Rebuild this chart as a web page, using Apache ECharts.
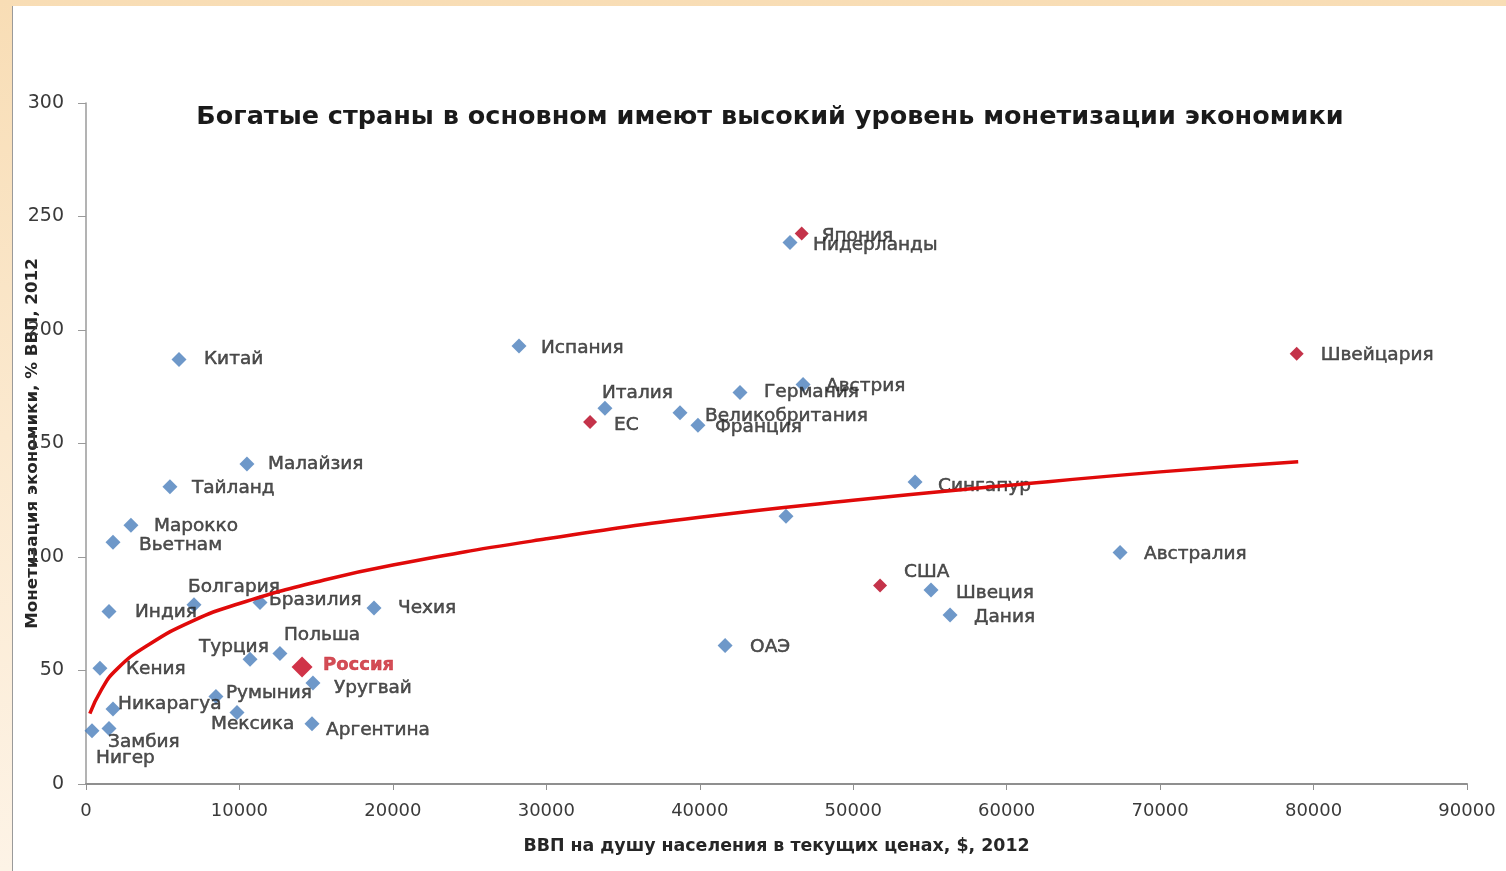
<!DOCTYPE html>
<html>
<head>
<meta charset="utf-8">
<script src="https://cdn.jsdelivr.net/npm/echarts@6/dist/echarts.min.js"></script>
<style>
  html, body { margin: 0; padding: 0; width: 1506px; height: 871px; overflow: hidden;
    background: linear-gradient(to bottom, #f8ddb5 0%, #fbe9cf 50%, #fdf3e6 100%); }
  #frame { position: absolute; left: 12px; top: 6px; width: 1494px; height: 865px;
    background: #ffffff; border-left: 1px solid #9a9a9a; box-sizing: border-box; }
  #chart { position: absolute; left: 1px; top: 0; width: 1493px; height: 865px; }
</style>
</head>
<body>
<div id="frame"><div id="chart"></div></div>
<script>
// ---- data ----
const titleText = 'Богатые страны в основном имеют высокий уровень монетизации экономики';
const xAxisTitle = 'ВВП на душу населения в текущих ценах, $, 2012';
const yAxisTitle = 'Монетизация экономики, % ВВП, 2012';

const countries = ['Китай','Испания','Нидерланды','Италия','Германия','Австрия','Великобритания','Франция',
  'Малайзия','Тайланд','Сингапур','Марокко','Вьетнам','','Австралия','Швеция','Дания','ОАЭ','Чехия',
  'Болгария','Бразилия','Индия','Польша','Турция','Уругвай','Кения','Румыния','Мексика','Аргентина',
  'Никарагуа','Замбия','Нигер'];
const gdp = [6060, 28220, 45880, 33820, 42620, 46730, 38710, 39880,
  10490, 5470, 54030, 2930, 1760, 45620, 67390, 55070, 56310, 41650, 18770,
  7040, 11340, 1500, 12640, 10690, 14790, 910, 8470, 9840, 14730,
  1760, 1500, 390];
const monet = [187, 193, 238.5, 165.5, 172.5, 176, 163.5, 158,
  141, 131, 133, 114, 106.5, 118, 102, 85.5, 74.5, 61, 77.5,
  79, 80, 76, 57.5, 55, 44.5, 51, 38.5, 31.5, 26.5,
  33, 24.5, 23.5];

const redCountries = ['Япония','ЕС','Швейцария','США'];
const redGdp = [46640, 32850, 78900, 51750];
const redMonet = [242.5, 159.5, 189.5, 87.5];

const russiaName = ['Россия'];
const russiaGdp = [14080];
const russiaMonet = [51.5];

// trend line points
const trendX = [250, 1000, 2000, 4000, 7000, 10000, 15000, 20000, 30000, 40000, 50000, 60000, 70000, 79000];
const trendY = [31, 41.5, 50.5, 61, 72, 79.5, 89, 96.5, 108, 117.5, 125, 131.5, 137.5, 142];

const xTicks = [0, 10000, 20000, 30000, 40000, 50000, 60000, 70000, 80000, 90000];
const yTicks = [0, 50, 100, 150, 200, 250, 300];

// ---- label placement (style only): [dx from marker centre to text left, dy of text centre] ----
const labelPlace = {
  'Китай':[25,0],'Испания':[22,2],'Нидерланды':[23,3],'Италия':[-3,-15],'Германия':[24,0],
  'Австрия':[23,2],'Великобритания':[25,3],'Франция':[17,2],'Малайзия':[21,0],'Тайланд':[22,2],
  'Сингапур':[23,4],'Марокко':[23,1],'Вьетнам':[26,3],'Австралия':[24,2],'Швеция':[25,3],
  'Дания':[24,2],'ОАЭ':[25,2],'Чехия':[24,0],'Болгария':[-6,-17],'Бразилия':[9,-2],
  'Индия':[26,1],'Польша':[4,-18],'Турция':[-51,-12],'Уругвай':[21,5],'Кения':[26,1],
  'Румыния':[10,-3],'Мексика':[-26,12],'Аргентина':[14,6],'Никарагуа':[5,-5],'Замбия':[-1,14],
  'Нигер':[4,28],
  'Япония':[20,3],'ЕС':[24,3],'Швейцария':[24,1],'США':[24,-13],
  'Россия':[21,-2]
};

const labelFont = { fontFamily: 'DejaVu Sans', fontSize: 18.5, color: '#242424',
  textBorderColor: '#242424', textBorderWidth: 0.5 };

function buildPoints(names, xs, ys, size, extraLabel) {
  return names.map((n, i) => {
    const p = labelPlace[n] || [20, 0];
    return {
      name: n,
      value: [xs[i], ys[i]],
      label: Object.assign({
        show: n !== '',
        formatter: n,
        position: 'right',
        distance: 0,
        offset: [p[0] - size / 2, p[1]]
      }, labelFont, extraLabel || {})
    };
  });
}

const chart = echarts.init(document.getElementById('chart'), null, { renderer: 'canvas' });

const option = {
  animation: false,
  backgroundColor: '#ffffff',
  title: {
    text: titleText,
    left: 751, top: 93, textAlign: 'center',
    textStyle: { fontFamily: 'DejaVu Sans', fontSize: 25.5, fontWeight: 'bold', color: '#1a1a1a' }
  },
  grid: { left: 72, right: 40, top: 97, bottom: 87, containLabel: false, outerBoundsMode: 'none' },
  xAxis: {
    type: 'value', min: 0, max: 90000, interval: 10000,
    name: xAxisTitle, nameLocation: 'middle', nameGap: 54, nameMoveOverlap: false,
    nameTextStyle: { fontFamily: 'DejaVu Sans', fontSize: 17.4, fontWeight: 'bold', color: '#262626' },
    axisLine: { show: true, onZero: false, lineStyle: { color: '#8f8f8f', width: 2 } },
    axisTick: { show: true, inside: false, length: 6, lineStyle: { color: '#8f8f8f', width: 1 } },
    axisLabel: { margin: 18, fontFamily: 'DejaVu Sans', fontSize: 18, color: '#3a3a3a',
      formatter: v => xTicks.includes(v) ? String(v) : '' },
    splitLine: { show: false }
  },
  yAxis: {
    type: 'value', min: 0, max: 300, interval: 50,
    name: yAxisTitle, nameLocation: 'middle', nameGap: 45, nameRotate: 90, nameMoveOverlap: false,
    nameTextStyle: { fontFamily: 'DejaVu Sans', fontSize: 16.7, fontWeight: 'bold', color: '#262626',
      backgroundColor: '#ffffff', padding: [0, 2] },
    axisLine: { show: true, onZero: false, lineStyle: { color: '#9a9a9a', width: 1.5 } },
    axisTick: { show: true, inside: false, length: 8, lineStyle: { color: '#9a9a9a', width: 1 } },
    axisLabel: { margin: 22, fontFamily: 'DejaVu Sans', fontSize: 19, color: '#3a3a3a',
      formatter: v => yTicks.includes(v) ? String(v) : '' },
    splitLine: { show: false }
  },
  series: [
    {
      type: 'scatter', name: 'countries', symbol: 'diamond', symbolSize: 15,
      itemStyle: { color: '#4a7ebb' },
      data: buildPoints(countries, gdp, monet, 15),
      z: 2
    },
    {
      type: 'scatter', name: 'highlight', symbol: 'diamond', symbolSize: 14,
      itemStyle: { color: '#b5001d' },
      data: buildPoints(redCountries, redGdp, redMonet, 14),
      z: 3
    },
    {
      type: 'scatter', name: 'russia', symbol: 'diamond', symbolSize: 21,
      itemStyle: { color: '#c4001a' },
      data: buildPoints(russiaName, russiaGdp, russiaMonet, 21,
        { color: '#c8202c', textBorderColor: '#c8202c', fontWeight: 'bold', fontSize: 18 }),
      z: 3
    },
    {
      type: 'line', name: 'trend', smooth: true, showSymbol: false, symbol: 'none',
      lineStyle: { color: '#e00a0a', width: 3.5 },
      data: trendX.map((x, i) => [x, trendY[i]]),
      z: 4
    }
  ]
};
chart.setOption(option);
</script>
</body>
</html>
